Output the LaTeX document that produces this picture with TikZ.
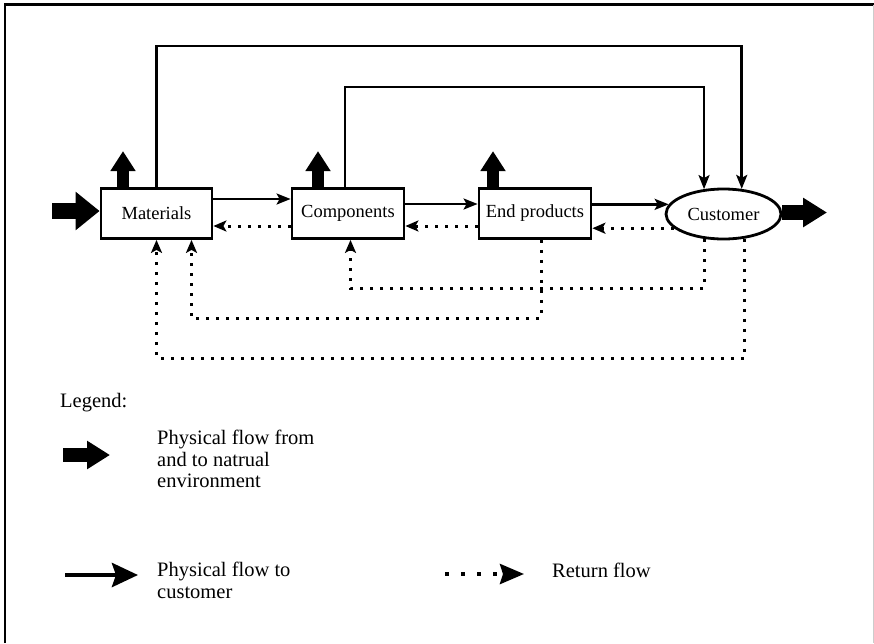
\documentclass[tikz,border=0pt]{standalone}
\usepackage{fontspec}
\setmainfont{Liberation Serif}
\usetikzlibrary{arrows.meta,shapes.geometric,calc}
\begin{document}
\begin{tikzpicture}[x=1pt,y=-1pt,
  box/.style={draw,line width=2.8pt,minimum width=111pt,minimum height=50pt,inner sep=0pt,font=\fontsize{18.5}{22}\selectfont},
  flow/.style={line width=2.5pt,-{Stealth[length=14pt,width=11pt,inset=3pt]}},
  ret/.style={line width=3pt,dash pattern=on 3pt off 7pt,-{Stealth[length=13pt,width=11pt,inset=3pt]}},
  fat/.style n args={3}{line width=#1,-{Triangle[length=#2,width=#3]}},
  legtext/.style={font=\fontsize{20.5}{21.5}\selectfont,align=left,inner sep=0pt}
]
\useasboundingbox (0,0) rectangle (874,643);
% frame
\draw[line width=2.5pt] (5,643) -- (5,4.5) -- (874,4.5);
\draw[gray!40,line width=1pt] (873,4.5) -- (873,643);

% nodes
\node[box] (mat) at (156.5,213.5) {Materials};
\node[box,minimum width=112pt] (comp) at (348,213.5) {Components};
\node[box,minimum width=112pt] (endp) at (535,213.5) {End products};
\node[draw,ellipse,line width=2.8pt,minimum width=115pt,minimum height=50pt,inner sep=0pt,font=\fontsize{18.5}{22}\selectfont] (cust) at (723.5,214) {Customer};

% forward flows
\draw[flow] ([yshift=14.5pt]mat.east) -- ([yshift=14.5pt]comp.west);
\draw[flow] ([yshift=9.5pt]comp.east) -- ([yshift=9.5pt]endp.west);
\draw[flow] (endp.east |- cust.170) -- (cust.170);

% top flows to customer
\coordinate (t1) at (cust.54 |- 0,46);
\draw[flow] (mat.north) |- (t1) -- (cust.54);
\coordinate (c2) at ($(comp.north)+(-3,0)$);
\coordinate (t2) at (cust.128 |- 0,87);
\draw[flow] (c2) |- (t2) -- (cust.128);

% return flows (adjacent)
\draw[ret] ([yshift=-12.5pt]comp.west) -- ([yshift=-12.5pt]mat.east);
\draw[ret] ([yshift=-12.5pt]endp.west) -- ([yshift=-12.5pt]comp.east);
\draw[ret] (cust.196) -- (endp.east |- cust.196);

% return flows (long)
\coordinate (c3) at ($(comp.south)+(2.5,0)$);
\draw[ret] (cust.232) -- (cust.232 |- 0,288) -| (c3);
\coordinate (e1) at ($(endp.south)+(6,0)$);
\coordinate (m2) at ($(mat.south)+(35,0)$);
\draw[ret] (e1) -- (e1 |- 0,318) -| (m2);
\draw[ret] (cust.310) -- (cust.310 |- 0,358) -| (mat.south);

% environment flows
\coordinate (in) at (52,211);
\draw[fat={16pt}{24pt}{37pt}] (in) -- ([yshift=2.5pt]mat.west);
\coordinate (out) at (827,212.5);
\draw[fat={15pt}{24pt}{28pt}] ([yshift=1.5pt]cust.east) -- (out);
\draw[fat={12pt}{20pt}{24pt}] ([xshift=-33.5pt]mat.north) -- ++(0,-36);
\draw[fat={12pt}{20pt}{24pt}] ([xshift=-30pt]comp.north) -- ++(0,-36);
\draw[fat={12pt}{20pt}{24pt}] ([xshift=-42pt]endp.north) -- ++(0,-36);

% legend
\node[anchor=base west,font=\fontsize{20.5}{21.5}\selectfont,inner sep=0pt] (leg) at (60,407) {Legend:};
\coordinate (l1a) at (63,455);
\coordinate (l1b) at (110,455);
\draw[fat={14pt}{23pt}{27pt}] (l1a) -- (l1b);
\node[legtext,anchor=north west] (lt1) at (157,430) {Physical flow from\\and to natrual\\environment};
\coordinate (l2a) at (65,575);
\coordinate (l2b) at (138,575);
\draw[line width=4.5pt,-{Stealth[length=26pt,width=24pt,inset=4pt]}] (l2a) -- (l2b);
\node[legtext,anchor=north west] (lt2) at (157,562) {Physical flow to\\customer};
\coordinate (l3a) at (445,574);
\coordinate (l3b) at (524,574);
\draw[line width=4pt,dash pattern=on 4pt off 12pt,-{Stealth[length=24pt,width=20pt,inset=3pt]}] (l3a) -- (l3b);
\node[anchor=base west,font=\fontsize{20.5}{21.5}\selectfont,inner sep=0pt] (lt3) at (552,577) {Return flow};
\end{tikzpicture}
\end{document}
